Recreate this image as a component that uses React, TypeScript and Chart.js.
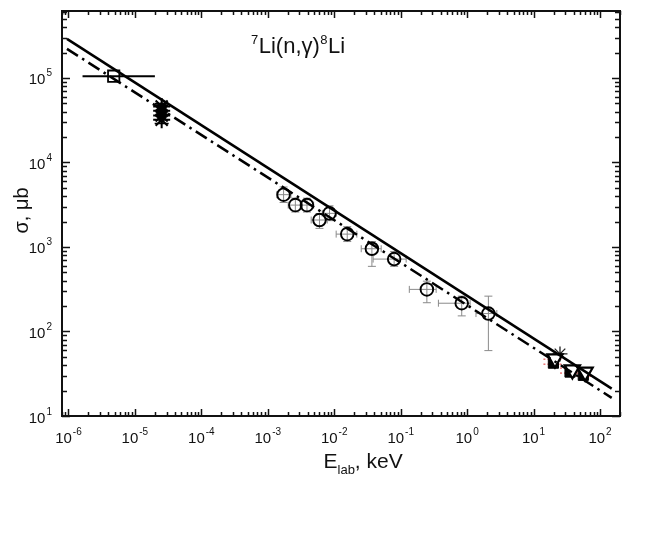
import React, { useEffect, useRef } from "react";
import { Chart, registerables } from "chart.js";

Chart.register(...registerables);

// ---------- axis ranges / ticks ----------
const xMin = 8e-7;
const xMax = 200;
const yMin = 10;
const yMax = 6.2e5;
const xDecadeExps = [-6, -5, -4, -3, -2, -1, 0, 1, 2];
const yDecadeExps = [1, 2, 3, 4, 5];

// ---------- curves ----------
const solidLineE = [9.5e-7, 150];
const solidLineSigma = [2.9e5, 21.1];
const dashLineE = [9.5e-7, 150];
const dashLineSigma = [2.21e5, 16.4];

// ---------- open square ----------
const squareE = [4.8e-6];
const squareSigma = [1.05e5];
const squareElo = [1.63e-6];
const squareEhi = [2.0e-5];

// ---------- thermal cluster ----------
const thermalStarE = [2.53e-5, 2.53e-5, 2.53e-5, 2.53e-5];
const thermalStarSigma = [46000, 41000, 36000, 32000];
const thermalSquareE = [2.53e-5, 2.53e-5];
const thermalSquareSigma = [43000, 38000];
const thermalErrE = [2.53e-5];
const thermalErrLo = [29000];
const thermalErrHi = [50000];

// ---------- open circles ----------
const circleE = [1.73e-3, 2.6e-3, 3.89e-3, 6.0e-3, 8.5e-3, 1.57e-2, 3.69e-2, 7.98e-2, 0.248, 0.83, 2.09];
const circleSigma = [4160, 3130, 3130, 2085, 2500, 1420, 953, 719, 315, 216, 163];
const circleElo = [1.37e-3, 2.03e-3, 3.08e-3, 4.5e-3, 6.6e-3, 1.07e-2, 2.55e-2, 3.85e-2, 0.135, 0.37, 1.36];
const circleEhi = [2.23e-3, 3.3e-3, 4.9e-3, 7.85e-3, 1.07e-2, 2.19e-2, 5.09e-2, 0.121, 0.342, 1.11, 2.8];
const circleSlo = [3360, 2590, 2590, 1660, 2050, 1160, 590, 590, 219, 153, 59.4];
const circleShi = [5130, 3780, 3780, 2490, 3070, 1740, 1160, 885, 394, 262, 262];

// ---------- high energy ----------
const triE = [21, 38.4, 59.7];
const triSigma = [47.5, 35.3, 33.1];
const fsqE = [19.9, 35.4, 56.1];
const fsqSigma = [42.2, 33.1, 30.3];
const astE = [25];
const astSigma = [54.3];

const FONT = '"Liberation Sans", Arial, Helvetica, sans-serif';

const pts = (xs: number[], ys: number[]) => xs.map((x, i) => ({ x, y: ys[i] }));

function supLabel(ctx: CanvasRenderingContext2D, exp: string, x: number, y: number, align: "center" | "right") {
  ctx.font = `15px ${FONT}`;
  const wb = ctx.measureText("10").width;
  ctx.font = `10px ${FONT}`;
  const we = ctx.measureText(exp).width;
  const total = wb + 1 + we;
  const start = align === "center" ? x - total / 2 : x - total;
  ctx.textAlign = "left";
  ctx.textBaseline = "alphabetic";
  ctx.font = `15px ${FONT}`;
  ctx.fillText("10", start, y);
  ctx.font = `10px ${FONT}`;
  ctx.fillText(exp, start + wb + 1, y - 8);
}

const customPlugin = {
  id: "customAxes",
  beforeDatasetsDraw(chart: any) {
    const ctx: CanvasRenderingContext2D = chart.ctx;
    const xs = chart.scales.x;
    const ys = chart.scales.y;
    const px = (v: number) => xs.getPixelForValue(v);
    const py = (v: number) => ys.getPixelForValue(v);
    ctx.save();
    // circles error bars
    ctx.strokeStyle = "#8a8a8a";
    ctx.lineWidth = 1;
    circleE.forEach((e, i) => {
      const cx = px(e);
      const cy = py(circleSigma[i]);
      const x1 = px(circleElo[i]);
      const x2 = px(circleEhi[i]);
      const y1 = py(circleSlo[i]);
      const y2 = py(circleShi[i]);
      ctx.beginPath();
      ctx.moveTo(x1, cy); ctx.lineTo(x2, cy);
      ctx.moveTo(x1, cy - 3.5); ctx.lineTo(x1, cy + 3.5);
      ctx.moveTo(x2, cy - 3.5); ctx.lineTo(x2, cy + 3.5);
      ctx.moveTo(cx, y1); ctx.lineTo(cx, y2);
      ctx.moveTo(cx - 4, y1); ctx.lineTo(cx + 4, y1);
      ctx.moveTo(cx - 4, y2); ctx.lineTo(cx + 4, y2);
      ctx.stroke();
    });
    // square horizontal bar
    ctx.strokeStyle = "#000";
    ctx.lineWidth = 2;
    squareE.forEach((e, i) => {
      const cy = py(squareSigma[i]);
      ctx.beginPath();
      ctx.moveTo(px(squareElo[i]), cy);
      ctx.lineTo(px(squareEhi[i]), cy);
      ctx.stroke();
    });
    // thermal bars
    ctx.lineWidth = 1.5;
    thermalErrE.forEach((e, i) => {
      const cx = px(e);
      const y1 = py(thermalErrLo[i]);
      const y2 = py(thermalErrHi[i]);
      ctx.beginPath();
      ctx.moveTo(cx, y1); ctx.lineTo(cx, y2);
      ctx.moveTo(cx - 7, y1); ctx.lineTo(cx + 7, y1);
      ctx.moveTo(cx - 7, y2); ctx.lineTo(cx + 7, y2);
      ctx.stroke();
    });
    // red small bars at high energy
    ctx.strokeStyle = "#e03030";
    ctx.lineWidth = 1;
    ctx.setLineDash([2, 2]);
    fsqE.forEach((e, i) => {
      const cx = px(e);
      const cy = py(fsqSigma[i]);
      ctx.beginPath();
      ctx.moveTo(cx - 10, cy - 4); ctx.lineTo(cx + 10, cy - 4);
      ctx.moveTo(cx - 10, cy + 1); ctx.lineTo(cx + 10, cy + 1);
      ctx.stroke();
    });
    ctx.setLineDash([]);
    ctx.restore();
  },
  afterDraw(chart: any) {
    const ctx: CanvasRenderingContext2D = chart.ctx;
    const { left, right, top, bottom } = chart.chartArea;
    const xs = chart.scales.x;
    const ys = chart.scales.y;
    ctx.save();
    ctx.strokeStyle = "#111";
    ctx.fillStyle = "#111";
    // ticks
    ctx.lineWidth = 1.5;
    ctx.beginPath();
    for (let d = -7; d <= 2; d++) {
      for (let m = 1; m <= 9; m++) {
        const v = m * Math.pow(10, d);
        if (v < xMin * 0.999 || v > xMax * 1.001) continue;
        const p = Math.round(xs.getPixelForValue(v)) + 0.5;
        const len = m === 1 ? 7 : 4;
        ctx.moveTo(p, bottom); ctx.lineTo(p, bottom - len);
        ctx.moveTo(p, top); ctx.lineTo(p, top + len);
      }
    }
    for (let d = 1; d <= 5; d++) {
      for (let m = 1; m <= 9; m++) {
        const v = m * Math.pow(10, d);
        if (v < yMin * 0.999 || v > yMax * 1.001) continue;
        const p = Math.round(ys.getPixelForValue(v)) + 0.5;
        const len = m === 1 ? 8 : 5;
        ctx.moveTo(left, p); ctx.lineTo(left + len, p);
        ctx.moveTo(right, p); ctx.lineTo(right - len, p);
      }
    }
    ctx.stroke();
    // frame
    ctx.lineWidth = 2;
    ctx.strokeRect(left, top, right - left, bottom - top);

    // tick labels
    xDecadeExps.forEach((e) => {
      const p = xs.getPixelForValue(Math.pow(10, e));
      supLabel(ctx, String(e), p, bottom + 27, "center");
    });
    yDecadeExps.forEach((e) => {
      const p = ys.getPixelForValue(Math.pow(10, e));
      supLabel(ctx, String(e), left - 10, p + 6.5, "right");
    });

    // x title
    ctx.textAlign = "left";
    ctx.textBaseline = "alphabetic";
    let tx = 323.5;
    const ty = 468;
    ctx.font = `21px ${FONT}`;
    ctx.fillText("E", tx, ty);
    tx += ctx.measureText("E").width;
    ctx.font = `13px ${FONT}`;
    ctx.fillText("lab", tx, ty + 6);
    tx += ctx.measureText("lab").width;
    ctx.font = `21px ${FONT}`;
    ctx.fillText(", keV", tx, ty);

    // y title
    ctx.save();
    ctx.translate(28, 210.5);
    ctx.rotate(-Math.PI / 2);
    ctx.font = `20px ${FONT}`;
    ctx.textAlign = "center";
    ctx.fillText("σ, μb", 0, 0);
    ctx.restore();

    // reaction annotation
    let ax = 251;
    const ay = 53;
    ctx.textAlign = "left";
    ctx.font = `13px ${FONT}`;
    ctx.fillText("7", ax, ay - 9);
    ax += ctx.measureText("7").width + 0.5;
    ctx.font = `22px ${FONT}`;
    ctx.fillText("Li(n,γ)", ax, ay);
    ax += ctx.measureText("Li(n,γ)").width + 0.5;
    ctx.font = `13px ${FONT}`;
    ctx.fillText("8", ax, ay - 9);
    ax += ctx.measureText("8").width + 0.5;
    ctx.font = `22px ${FONT}`;
    ctx.fillText("Li", ax, ay);
    ctx.restore();
  },
};

export default function App() {
  const ref = useRef<HTMLCanvasElement | null>(null);
  useEffect(() => {
    if (!ref.current) return;
    const chart = new Chart(ref.current, {
      type: "scatter",
      data: {
        datasets: [
          {
            data: pts(solidLineE, solidLineSigma),
            showLine: true,
            borderColor: "#000",
            borderWidth: 2.5,
            pointRadius: 0,
          },
          {
            data: pts(dashLineE, dashLineSigma),
            showLine: true,
            borderColor: "#000",
            borderWidth: 2.5,
            borderDash: [13, 5, 2.5, 5],
            pointRadius: 0,
          },
          {
            data: pts(triE, triSigma),
            pointStyle: "triangle",
            rotation: 180,
            pointRadius: 8.8,
            borderWidth: 2.2,
            borderColor: "#000",
            backgroundColor: "#fff",
          },
          {
            data: pts(astE, astSigma),
            pointStyle: "star",
            pointRadius: 7.5,
            borderWidth: 1.3,
            borderColor: "#222",
            backgroundColor: "#222",
          },
          {
            data: pts(fsqE, fsqSigma),
            pointStyle: "rect",
            pointRadius: 7.2,
            borderWidth: 1,
            borderColor: "#000",
            backgroundColor: "#000",
          },
          {
            data: pts(circleE, circleSigma),
            pointStyle: "circle",
            pointRadius: 6.3,
            borderWidth: 1.9,
            borderColor: "#000",
            backgroundColor: "rgba(0,0,0,0)",
          },
          {
            data: pts(squareE, squareSigma),
            pointStyle: "rect",
            pointRadius: 8,
            borderWidth: 1.8,
            borderColor: "#000",
            backgroundColor: "rgba(0,0,0,0)",
          },
          {
            data: pts(thermalStarE, thermalStarSigma),
            pointStyle: "star",
            pointRadius: 8.5,
            borderWidth: 2,
            borderColor: "#000",
            backgroundColor: "#000",
          },
          {
            data: pts(thermalSquareE, thermalSquareSigma),
            pointStyle: "rect",
            pointRadius: 6.3,
            borderWidth: 1,
            borderColor: "#000",
            backgroundColor: "#000",
          },
        ],
      },
      options: {
        animation: false,
        responsive: false,
        devicePixelRatio: 1,
        events: [],
        layout: { padding: { left: 62, top: 8, right: 25, bottom: 120 } },
        plugins: { legend: { display: false }, tooltip: { enabled: false } },
        scales: {
          x: { type: "logarithmic", min: xMin, max: xMax, display: false },
          y: { type: "logarithmic", min: yMin, max: yMax, display: false },
        },
      },
      plugins: [customPlugin],
    });
    return () => chart.destroy();
  }, []);
  return (
    <div style={{ position: "absolute", left: 0, top: 0, width: 645, height: 536, background: "#fff" }}>
      <canvas ref={ref} width={645} height={536} style={{ width: 645, height: 536, display: "block" }} />
    </div>
  );
}
